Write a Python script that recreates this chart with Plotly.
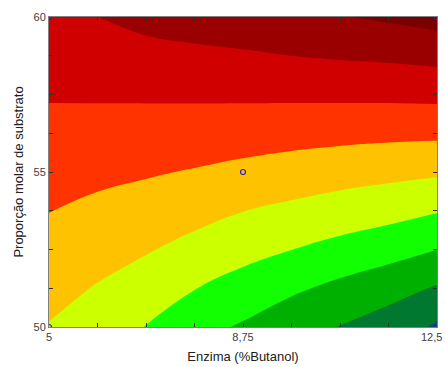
import plotly.graph_objects as go

# Axes grid (Enzima %Butanol, Proporção molar de substrato)
enzima = [5.0, 5.9375, 6.875, 7.8125, 8.75, 9.6875, 10.625, 11.5625, 12.5]
proporcao = [50.0, 51.25, 52.5, 53.75, 55.0, 56.25, 57.5, 58.75, 60.0]

# Response surface values (contour level index), rows = proporcao
z_row_50_00 = [3.95, 3.56, 2.97, 2.33, 1.89, 1.36, 0.97, 0.50, -0.14]
z_row_51_25 = [4.31, 3.94, 3.52, 3.03, 2.61, 2.17, 1.76, 1.39, 0.91]
z_row_52_50 = [4.67, 4.36, 4.08, 3.70, 3.32, 3.01, 2.69, 2.38, 2.01]
z_row_53_75 = [5.02, 4.79, 4.59, 4.33, 4.02, 3.79, 3.56, 3.35, 3.06]
z_row_55_00 = [5.37, 5.22, 5.09, 4.94, 4.75, 4.57, 4.40, 4.27, 4.14]
z_row_56_25 = [5.72, 5.66, 5.60, 5.53, 5.46, 5.36, 5.29, 5.23, 5.21]
z_row_57_50 = [6.08, 6.10, 6.12, 6.14, 6.16, 6.18, 6.20, 6.22, 6.26]
z_row_58_75 = [6.46, 6.54, 6.66, 6.76, 6.87, 7.00, 7.10, 7.18, 7.30]
z_row_60_00 = [6.83, 6.99, 7.31, 7.52, 7.66, 7.80, 7.95, 8.14, 8.38]
z_grid = [z_row_50_00, z_row_51_25, z_row_52_50, z_row_53_75, z_row_55_00,
          z_row_56_25, z_row_57_50, z_row_58_75, z_row_60_00]

# Design points
pts_x = [5, 5, 12.5, 12.5, 8.75]
pts_y = [50, 60, 50, 60, 55]

# Tick labels
x_tickvals = [5 + k * 0.9375 for k in range(9)]
x_ticktext = ["5", "", "", "", "8,75", "", "", "", ""]
x_last_label = "12,5"
y_tickvals = [50 + k * 1.25 for k in range(9)]
y_ticktext = ["50", "", "", "", "55", "", "", "", "60"]

band_colors = ["#0E4E68", "#007830", "#00B000", "#11FF00", "#CCFF00",
               "#FFC200", "#FF3300", "#D00000", "#9A0000", "#780000"]
colorscale = [[k / 9, c] for k, c in enumerate(band_colors)]

fig = go.Figure()
fig.add_trace(go.Contour(
    x=enzima, y=proporcao, z=z_grid,
    autocontour=False,
    contours=dict(start=0, end=8, size=1, coloring="fill", showlines=False),
    line=dict(width=0, smoothing=1.3),
    colorscale=colorscale,
    showscale=False,
    hoverinfo="skip",
))
fig.add_trace(go.Scatter(
    x=pts_x, y=pts_y, mode="markers",
    marker=dict(symbol="circle-open", size=5, color="#2020E0", line=dict(width=1.2)),
    cliponaxis=True, showlegend=False,
))

tick_font = dict(family="Liberation Sans Narrow, Arial Narrow, Liberation Sans, Arial", size=11, color="#404040")
title_font = dict(family="Liberation Sans, Arial", size=13, color="#202020")

fig.add_annotation(
    x=enzima[-1], xref="x", y=0, yref="paper", yanchor="top", xanchor="right",
    text=x_last_label, showarrow=False, font=tick_font, xshift=7, yshift=-2,
)

fig.update_layout(
    width=445, height=367,
    margin=dict(l=49, r=8, t=17, b=40),
    paper_bgcolor="white", plot_bgcolor="white",
    showlegend=False,
    xaxis=dict(
        range=[5, 12.5], tickmode="array", tickvals=x_tickvals, ticktext=x_ticktext,
        ticks="inside", ticklen=4, tickcolor="#303030", tickwidth=1,
        showline=True, linecolor="#808080", linewidth=1, mirror="allticks",
        showgrid=False, zeroline=False, tickfont=tick_font, automargin=False,
        ticklabeloverflow="allow",
        title=dict(text="Enzima (%Butanol)", font=title_font, standoff=9),
    ),
    yaxis=dict(
        range=[50, 60], tickmode="array", tickvals=y_tickvals, ticktext=y_ticktext,
        ticks="inside", ticklen=4, tickcolor="#303030", tickwidth=1,
        showline=True, linecolor="#808080", linewidth=1, mirror="allticks",
        showgrid=False, zeroline=False, tickfont=tick_font, automargin=False,
        ticklabeloverflow="allow",
        title=dict(text="Proporção molar de substrato", font=title_font, standoff=6),
    ),
)

fig.write_html("out.html")
